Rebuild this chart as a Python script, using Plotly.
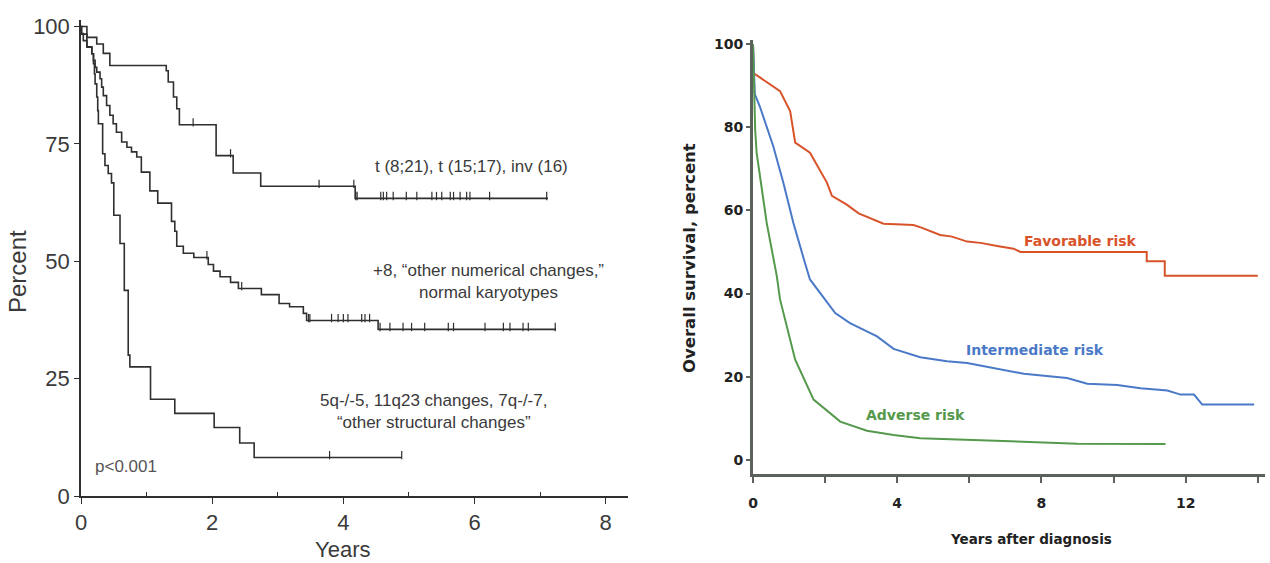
import numpy as np
import plotly.graph_objects as go

# ---------------- Left panel (Kaplan-Meier, step curves) ----------------
fav_t = [0, 0.09, 0.24, 0.34, 0.44, 1.30, 1.33, 1.41, 1.46, 1.50, 2.06, 2.32, 2.74, 4.18, 7.12]
fav_s = [100, 97.7, 96.3, 94.3, 91.7, 90.6, 88.2, 85.0, 82.5, 79.1, 72.5, 68.8, 66.0, 63.4, 63.4]
fav_cens = [1.71, 2.28, 3.63, 4.16, 4.19, 4.21, 4.57, 4.61, 4.66, 4.76, 4.96, 5.12, 5.35, 5.42,
            5.50, 5.63, 5.68, 5.78, 5.88, 5.93, 6.23, 7.10]

int_t = [0, 0.01, 0.09, 0.165, 0.19, 0.215, 0.24, 0.29, 0.315, 0.34, 0.39, 0.44, 0.49, 0.54,
         0.62, 0.70, 0.77, 0.85, 0.92, 1.05, 1.17, 1.38, 1.43, 1.46, 1.56, 1.72, 1.94, 2.02,
         2.12, 2.28, 2.40, 2.75, 3.02, 3.18, 3.39, 3.44, 4.53, 7.24]
int_s = [100, 98.4, 95.7, 94.2, 92.8, 91.3, 90.3, 88.9, 87.1, 85.3, 83.2, 81.1, 79.3, 77.5,
         75.4, 74.3, 73.3, 72.2, 69.0, 65.0, 62.4, 58.5, 56.4, 53.2, 51.7, 50.8, 49.3, 47.9,
         46.7, 45.5, 44.2, 42.9, 41.0, 40.3, 38.9, 37.4, 35.5, 35.5]
int_cens = [1.92, 2.45, 3.47, 3.49, 3.82, 3.92, 4.00, 4.07, 4.28, 4.33, 4.40, 4.56, 4.71, 4.91,
            5.04, 5.24, 5.60, 5.68, 6.16, 6.44, 6.54, 6.74, 6.82, 7.23]

adv_t = [0, 0.005, 0.035, 0.09, 0.165, 0.19, 0.205, 0.215, 0.24, 0.255, 0.265, 0.33, 0.365,
         0.415, 0.465, 0.50, 0.595, 0.66, 0.72, 0.745, 1.06, 1.43, 2.03, 2.42, 2.64, 4.89]
adv_s = [100, 98.5, 97.0, 95.6, 94.2, 92.1, 89.9, 87.8, 85.0, 82.1, 79.3, 72.9, 70.4,
         68.7, 66.7, 59.8, 53.8, 43.8, 30.0, 27.5, 20.6, 17.6, 14.6, 11.3, 8.2, 8.2]
adv_cens = [3.79, 4.89]

left_labels = ["t (8;21), t (15;17), inv (16)",
               "+8, \u201cother numerical changes,\u201d<br>normal karyotypes",
               "5q-/-5, 11q23 changes, 7q-/-7,<br>\u201cother structural changes\u201d"]
left_label_pos = [(5.95, 70.2), (6.22, 45.7), (5.38, 18.1)]

# ---------------- Right panel (smooth survival curves) ----------------
rfav_t = [0, 0.02, 0.19, 0.75, 1.03, 1.17, 1.58, 1.86, 2.05, 2.19, 2.60, 2.93, 3.62, 4.45, 4.69,
          5.19, 5.52, 5.94, 6.31, 6.81, 7.23, 7.42, 10.92, 10.92, 11.42, 11.42, 14.0]
rfav_s = [100, 93.0, 92.0, 88.7, 83.9, 76.3, 73.9, 69.5, 66.7, 63.5, 61.4, 59.3, 56.8, 56.5, 55.8,
          54.1, 53.7, 52.5, 52.2, 51.4, 50.8, 50.0, 50.0, 47.8, 47.8, 44.3, 44.3]

rint_t = [0, 0.05, 0.19, 0.56, 0.84, 1.12, 1.44, 1.58, 2.28, 2.69, 3.44, 3.90, 4.64, 5.38, 5.94,
          6.86, 7.51, 8.71, 9.27, 10.10, 10.75, 11.49, 11.86, 12.23, 12.46, 13.9]
rint_s = [100, 88.0, 85.0, 75.5, 66.7, 57.0, 47.4, 43.4, 35.3, 32.9, 29.7, 26.7, 24.7, 23.7, 23.3,
          21.7, 20.7, 19.7, 18.3, 18.0, 17.2, 16.7, 15.7, 15.7, 13.3, 13.3]

radv_t = [0, 0.06, 0.10, 0.38, 0.52, 0.66, 0.75, 1.17, 1.68, 2.42, 3.16, 3.90, 4.64, 5.94, 6.86,
          8.0, 9.0, 11.44]
radv_s = [100, 79.5, 73.9, 57.0, 50.6, 44.2, 38.6, 24.1, 14.5, 9.2, 7.0, 6.0, 5.2, 4.8, 4.4,
          4.1, 3.9, 3.8]

right_labels = ["Favorable risk", "Intermediate risk", "Adverse risk"]
right_label_pos = [(9.08, 52.6), (7.83, 26.4), (4.50, 10.8)]
right_colors = ["#d8532a", "#4a79c8", "#55994c"]

W, H = 1270, 563
LFONT = "Liberation Sans, Arial, sans-serif"
RFONT = "DejaVu Sans, Verdana, sans-serif"
LCOL = "#2f2f2f"
TCOL = "#3a3a3a"
RAX = "#5b615b"


def step_level(ts, ss, x):
    i = np.searchsorted(np.array(ts), np.array(x), side="right") - 1
    return np.array(ss)[i]


fig = go.Figure()

for ts, ss, cens in [(fav_t, fav_s, fav_cens), (int_t, int_s, int_cens), (adv_t, adv_s, adv_cens)]:
    fig.add_trace(go.Scatter(x=ts, y=ss, mode="lines", line=dict(color=LCOL, width=1.6, shape="hv"),
                             xaxis="x", yaxis="y", showlegend=False, hoverinfo="skip"))
    lv = step_level(ts, ss, cens)
    fig.add_trace(go.Scatter(x=cens, y=lv + 0.5, mode="markers",
                             marker=dict(symbol="line-ns", size=6, line=dict(color=LCOL, width=1.2)),
                             xaxis="x", yaxis="y", showlegend=False, hoverinfo="skip"))

for ts, ss, col in [(rfav_t, rfav_s, right_colors[0]), (rint_t, rint_s, right_colors[1]),
                    (radv_t, radv_s, right_colors[2])]:
    fig.add_trace(go.Scatter(x=ts, y=ss, mode="lines", line=dict(color=col, width=2),
                             xaxis="x2", yaxis="y2", showlegend=False, hoverinfo="skip"))

C = dict(xanchor="center", yanchor="middle", showarrow=False)
annotations = []
for txt, (ax, ay) in zip(left_labels, left_label_pos):
    annotations.append(dict(x=ax, y=ay, xref="x", yref="y", text=txt, align="center",
                            font=dict(family=LFONT, size=17, color=TCOL), **C))
annotations.append(dict(x=0.69, y=6.2, xref="x", yref="y", text="p<0.001",
                        font=dict(family=LFONT, size=17, color="#555555"), **C))
annotations.append(dict(x=343 / W, y=1 - 549 / H, xref="paper", yref="paper", text="Years",
                        font=dict(family=LFONT, size=22, color=TCOL), **C))
annotations.append(dict(x=17 / W, y=1 - 272 / H, xref="paper", yref="paper", text="Percent",
                        textangle=-90, font=dict(family=LFONT, size=24, color=TCOL), **C))

for txt, (ax, ay), col in zip(right_labels, right_label_pos, right_colors):
    annotations.append(dict(x=ax, y=ay, xref="x2", yref="y2", text="<b>" + txt + "</b>",
                            font=dict(family=RFONT, size=14, color=col), **C))
annotations.append(dict(x=1031 / W, y=1 - 539 / H, xref="paper", yref="paper",
                        text="<b>Years after diagnosis</b>",
                        font=dict(family=RFONT, size=13.5, color="#222222"), **C))
annotations.append(dict(x=690 / W, y=1 - 258 / H, xref="paper", yref="paper",
                        text="<b>Overall survival, percent</b>", textangle=-90,
                        font=dict(family=RFONT, size=16.5, color="#222222"), **C))

fig.update_layout(
    width=W, height=H, margin=dict(l=0, r=0, t=0, b=0, autoexpand=False),
    paper_bgcolor="white", plot_bgcolor="white",
    showlegend=False,
    annotations=annotations,
    xaxis=dict(domain=[81 / W, 628 / W], range=[0, 8.34], anchor="y", automargin=False,
               showline=True, linecolor=LCOL, linewidth=1.5, showgrid=False, zeroline=False,
               tickvals=[0, 2, 4, 6, 8], ticks="outside", ticklen=6, tickcolor=LCOL,
               tickfont=dict(family=LFONT, size=22, color=TCOL),
               minor=dict(tickvals=[1, 3, 5, 7], ticks="inside", ticklen=4, tickcolor=LCOL)),
    yaxis=dict(domain=[(H - 496) / H, (H - 20) / H], range=[0, 101.4], anchor="x", automargin=False,
               showline=True, linecolor=LCOL, linewidth=1.5, showgrid=False, zeroline=False,
               tickvals=[0, 25, 50, 75, 100], ticks="outside", ticklen=5, tickcolor=LCOL,
               tickfont=dict(family=LFONT, size=22, color=TCOL)),
    xaxis2=dict(domain=[753 / W, 1265 / W], range=[0, 14.2], anchor="y2", automargin=False,
                showline=True, linecolor=RAX, linewidth=3, showgrid=False, zeroline=False,
                tickvals=[0, 2, 4, 6, 8, 10, 12, 14],
                ticktext=["<b>0</b>", "", "<b>4</b>", "", "<b>8</b>", "", "<b>12</b>", ""],
                ticks="outside", ticklen=6, tickwidth=1.5, tickcolor=RAX, ticklabelstandoff=8,
                tickfont=dict(family=RFONT, size=14, color="#222222")),
    yaxis2=dict(domain=[(H - 474) / H, (H - 40) / H], range=[-3.4, 101], anchor="x2", automargin=False,
                showline=True, linecolor=RAX, linewidth=3, showgrid=False, zeroline=False,
                tickvals=[0, 20, 40, 60, 80, 100],
                ticktext=["<b>0</b>", "<b>20</b>", "<b>40</b>", "<b>60</b>", "<b>80</b>", "<b>100</b>"],
                ticks="outside", ticklen=4, tickwidth=1.5, tickcolor=RAX,
                tickfont=dict(family=RFONT, size=14, color="#222222")),
)

fig.write_html("out.html", config={"displayModeBar": False},
               post_script="document.body.style.margin='0';document.body.style.overflow='hidden';")
